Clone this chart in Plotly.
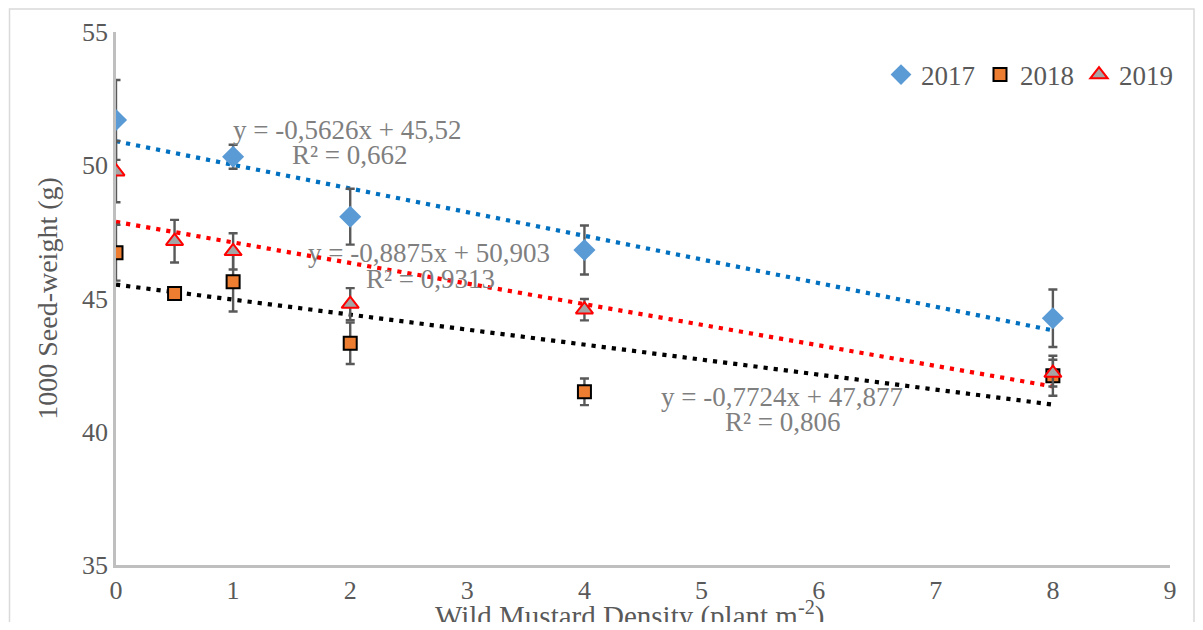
import numpy as np
import plotly.graph_objects as go

# ---- data ----
x_2017 = [0, 1, 2, 4, 8]
y_2017 = [51.70, 50.32, 48.07, 46.82, 44.26]
e_2017 = [1.50, 0.45, 1.05, 0.92, 1.08]

x_2018 = [0, 0.5, 1, 2, 4, 8]
y_2018 = [46.72, 45.19, 45.63, 43.32, 41.50, 42.10]
e_2018 = [1.05, 0.15, 1.12, 0.78, 0.50, 0.75]

x_2019 = [0, 0.5, 1, 2, 4, 8]
y_2019 = [49.76, 47.15, 46.77, 44.79, 44.58, 42.20]
e_2019 = [1.15, 0.80, 0.68, 0.60, 0.40, 0.50]

# linear trendlines (slope, intercept) as printed on the chart
trend_2017 = (-0.8875, 50.903)
trend_2018 = (-0.5626, 45.52)
trend_2019 = (-0.7724, 47.877)
trend_x = [0, 8]

eq_lines = [
    "y = -0,5626x + 45,52", "R² = 0,662",
    "y = -0,8875x + 50,903", "R² = 0,9313",
    "y = -0,7724x + 47,877", "R² = 0,806",
]

x_ticks = list(range(0, 10))
y_ticks = [35, 40, 45, 50, 55]

# ---- layout constants ----
FONT = "Liberation Serif"
GRAY_TXT = "#595959"
ERR = "#595959"
# The page has an 8px body margin, so the figure is drawn 8px right/down.
OFF = 8
FIG_W, FIG_H = 1203 - 2 * OFF, 630 - 2 * OFF
# plot area in page pixels: x 116..1170, y 32..565
PX_L, PX_R, PX_T, PX_B = 116, 1170, 32, 565
L = PX_L - OFF
R = FIG_W - (PX_R - OFF)
T = PX_T - OFF
B = FIG_H - (PX_B - OFF)
PW, PH = PX_R - PX_L, PX_B - PX_T
# label positions (page pixel centres)
eq_px = [(347, 130), (350, 155), (429, 253), (430, 279), (782, 397), (783, 422)]


def px_to_paper_x(px):
    return (px - PX_L) / PW


def px_to_paper_y(py):
    return (PX_B - py) / PH


fig = go.Figure()


def trend(coef, color):
    xs = np.array(trend_x, dtype=float)
    ys = coef[0] * xs + coef[1]
    fig.add_trace(go.Scatter(
        x=xs, y=ys, mode="lines", showlegend=False, hoverinfo="skip",
        line=dict(color=color, width=4.2, dash="4.2px,6px"),
    ))


trend(trend_2017, "#0070C0")
trend(trend_2019, "#FF0000")
trend(trend_2018, "#000000")

err_style = dict(type="data", visible=True, color=ERR, thickness=2.4, width=4.5)

fig.add_trace(go.Scatter(
    x=x_2017, y=y_2017, mode="markers", name="2017",
    error_y=dict(array=e_2017, **err_style),
    marker=dict(symbol="diamond", size=17, color="#5B9BD5",
                line=dict(color="#5B9BD5", width=0)),
))
fig.add_trace(go.Scatter(
    x=x_2018, y=y_2018, mode="markers", name="2018",
    error_y=dict(array=e_2018, **err_style),
    marker=dict(symbol="square", size=13, color="#ED7D31",
                line=dict(color="#000000", width=2)),
))
fig.add_trace(go.Scatter(
    x=x_2019, y=y_2019, mode="markers", name="2019",
    error_y=dict(array=e_2019, **err_style),
    marker=dict(symbol="triangle-up", size=15, color="#A5A5A5",
                line=dict(color="#FF0000", width=2)),
))

for txt, (px, py) in zip(eq_lines, eq_px):
    fig.add_annotation(x=px_to_paper_x(px), y=px_to_paper_y(py),
                       xref="paper", yref="paper", text=txt,
                       showarrow=False, xanchor="center", yanchor="middle",
                       font=dict(family=FONT, size=27, color="#7F7F7F"))

# x-axis title as text below the axis
fig.add_annotation(x=px_to_paper_x(629), y=px_to_paper_y(614),
                   xref="paper", yref="paper",
                   text="Wild Mustard Density (plant m<sup>-2</sup>)",
                   showarrow=False, xanchor="center", yanchor="middle",
                   font=dict(family=FONT, size=29, color=GRAY_TXT))

fig.add_shape(type="rect", xref="paper", yref="paper",
              x0=px_to_paper_x(9.5), x1=px_to_paper_x(1194),
              y0=px_to_paper_y(640), y1=px_to_paper_y(9),
              line=dict(color="#D9D9D9", width=1.5), fillcolor="rgba(0,0,0,0)",
              layer="below")

fig.update_layout(
    width=FIG_W, height=FIG_H,
    margin=dict(l=L, r=R, t=T, b=B, pad=0, autoexpand=False),
    paper_bgcolor="white", plot_bgcolor="white",
    font=dict(family=FONT, color=GRAY_TXT, size=26),
    showlegend=True,
    legend=dict(orientation="h", x=px_to_paper_x(1178), xanchor="right",
                y=px_to_paper_y(75), yanchor="middle",
                font=dict(family=FONT, size=27, color=GRAY_TXT),
                itemwidth=30, bgcolor="rgba(0,0,0,0)", tracegroupgap=0),
    xaxis=dict(range=[0, 9], tickvals=x_ticks, showgrid=False, zeroline=False,
               showline=True, linecolor="#BFBFBF", linewidth=2.5,
               ticks="", automargin=False,
               tickfont=dict(family=FONT, size=26, color=GRAY_TXT)),
    yaxis=dict(range=[35, 55], tickvals=y_ticks, showgrid=False, zeroline=False,
               showline=True, linecolor="#BFBFBF", linewidth=2.5,
               ticks="", automargin=False,
               tickfont=dict(family=FONT, size=26, color=GRAY_TXT),
               title=dict(text="1000 Seed-weight (g)",
                          font=dict(family=FONT, size=28, color=GRAY_TXT),
                          standoff=17)),
)

fig.write_html("out.html")
